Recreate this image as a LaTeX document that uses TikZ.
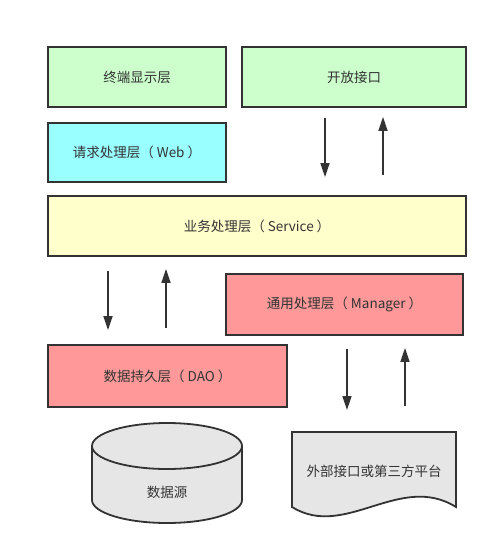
\documentclass[tikz,border=0pt]{standalone}
\usepackage{fontspec}
\setmainfont{Noto Sans CJK SC}
\usetikzlibrary{arrows.meta}
\definecolor{ln}{HTML}{333333}
\definecolor{gr}{HTML}{CCFFCC}
\definecolor{cy}{HTML}{99FFFF}
\definecolor{ye}{HTML}{FFFFCC}
\definecolor{rd}{HTML}{FF9999}
\definecolor{gy}{HTML}{E6E6E6}
\tikzset{
  layer/.style={draw=ln, line width=1.8pt, inner sep=0pt, text=ln, font=\fontsize{13.5}{16}\selectfont},
  arr/.style={draw=ln, line width=1.6pt, -{Triangle[length=14pt,width=9pt]}},
  lbl/.style={text=ln, inner sep=0pt, font=\fontsize{13.5}{16}\selectfont}
}
\begin{document}
\begin{tikzpicture}[x=1pt,y=1pt]
\useasboundingbox (0,0) rectangle (498,-556);
\fill[white] (0,0) rectangle (498,-556);
% boxes
\node[layer, fill=gr, minimum width=178pt, minimum height=60pt] (term) at (137,-77) {终端显示层};
\node[layer, fill=gr, minimum width=224pt, minimum height=60pt] (open) at (354,-77) {开放接口};
\node[layer, fill=cy, minimum width=178pt, minimum height=59pt] (web) at (137,-152.5) {请求处理层（ Web ）};
\node[layer, fill=ye, minimum width=418pt, minimum height=60pt] (svc) at (257,-226) {业务处理层（ Service ）};
\node[layer, fill=rd, minimum width=237pt, minimum height=61pt] (mgr) at (344.5,-304.5) {通用处理层（ Manager ）};
\node[layer, fill=rd, minimum width=239pt, minimum height=62pt] (dao) at (167.5,-376) {数据持久层（ DAO ）};
% cylinder
\filldraw[fill=gy, draw=ln, line width=1.8pt] (92,-446) -- (92,-500) arc (180:360:75 and 23) -- (242,-446) arc (0:180:75 and 23) -- cycle;
\draw[ln, line width=1.8pt] (92,-446) arc (180:360:75 and 23);
\node[lbl] (ds) at (167,-492) {数据源};
% document
\filldraw[fill=gy, draw=ln, line width=1.8pt] (292,-432) -- (456,-432) -- (456,-507) .. controls (400,-472) and (345,-540) .. (292,-507) -- cycle;
\node[lbl] (ext) at (374,-471) {外部接口或第三方平台};
\coordinate (docn) at (374,-432);
% arrow columns
\coordinate (c1) at (325,0);
\coordinate (c2) at (383,0);
\coordinate (c3) at (108,0);
\coordinate (c4) at (166,0);
\coordinate (c5) at (347,0);
\coordinate (c6) at (405,0);
\draw[arr, shorten <=10pt, shorten >=18pt] (open.south -| c1) -- (svc.north -| c1);
\draw[arr, shorten <=20pt, shorten >=9pt] (svc.north -| c2) -- (open.south -| c2);
\draw[arr, shorten <=14pt, shorten >=14pt] (svc.south -| c3) -- (dao.north -| c3);
\draw[arr, shorten <=16pt, shorten >=12pt] (dao.north -| c4) -- (svc.south -| c4);
\draw[arr, shorten <=13pt, shorten >=22pt] (mgr.south -| c5) -- (docn -| c5);
\draw[arr, shorten <=26pt, shorten >=12pt] (docn -| c6) -- (mgr.south -| c6);
\end{tikzpicture}
\end{document}
